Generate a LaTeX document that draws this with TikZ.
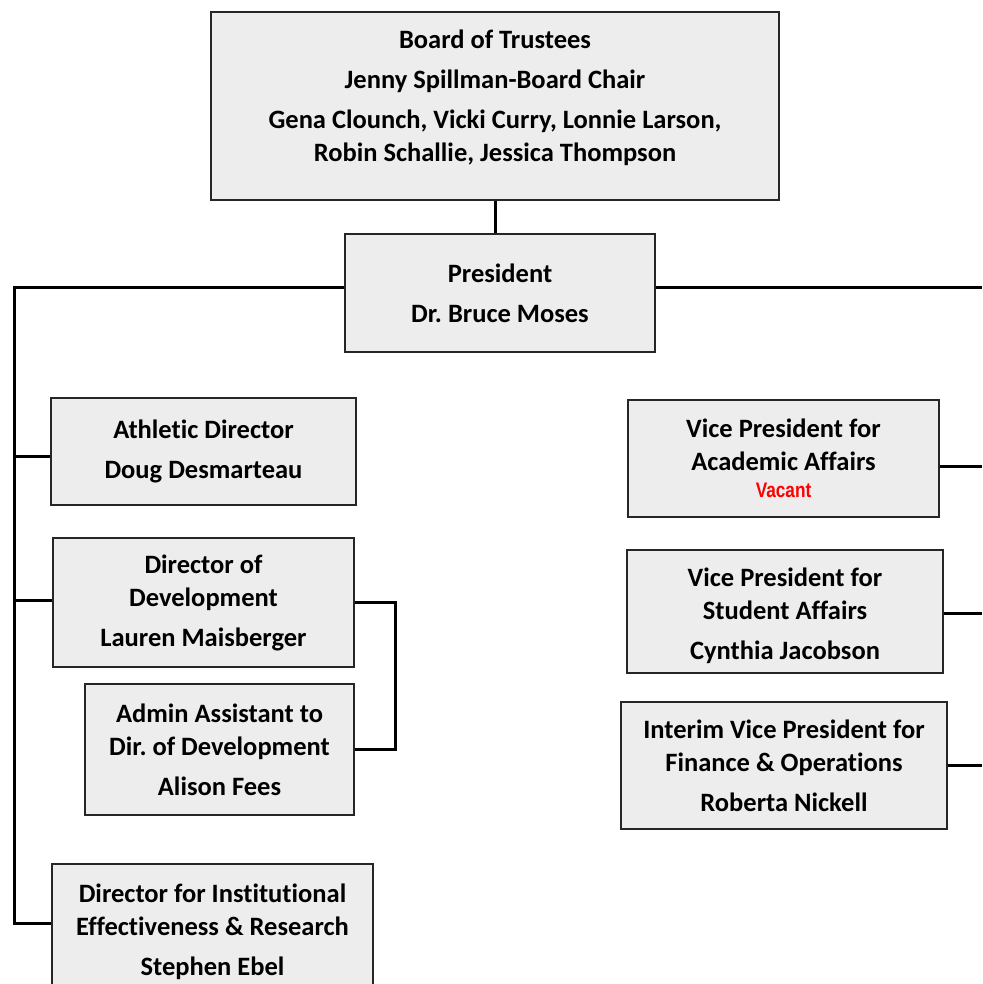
\documentclass[tikz,border=0pt]{standalone}
\usepackage{fontspec}
\setmainfont{Carlito}[Ligatures=NoCommon]
\newfontfamily\narrowfont{Liberation Sans}
\definecolor{boxgray}{HTML}{EDEDED}
\definecolor{vacantred}{HTML}{FF0000}

\begin{document}
\frenchspacing
\begin{tikzpicture}[x=1pt,y=-1pt,
		box/.style={draw=black!85,line width=2pt,fill=boxgray,align=center,inner sep=0pt,
			font=\bfseries\fontsize{26.5}{33}\selectfont},
		wire/.style={line width=3pt}]
		\clip (0,0) rectangle (982,984);
		\useasboundingbox (0,0) rectangle (982,984);

		% board and president
		\draw (495,106) node[box,minimum width=568,minimum height=188] (board)
			{Board of Trustees\\[7pt] Jenny Spillman-Board Chair\\[7pt]
			 Gena Clounch, Vicki Curry, Lonnie Larson,\\ Robin Schallie, Jessica Thompson\\[-13pt]\mbox{}};
		\draw (500,293) node[box,minimum width=310,minimum height=118] (president)
			{President\\[7pt] Dr. Bruce Moses};

		% left side
		\draw (203.5,451.5) node[box,minimum width=305,minimum height=107] (athletic)
			{Athletic Director\\[7pt] Doug Desmarteau};
		\draw (203.5,602.5) node[box,minimum width=301,minimum height=129] (devdir)
			{Director of\\ Development\\[7pt] Lauren Maisberger};
		\draw (219.5,749.5) node[box,minimum width=269,minimum height=131] (admin)
			{Admin Assistant to\\ Dir. of Development\\[7pt] Alison Fees};
		\draw (212.5,932) node[box,minimum width=321,minimum height=136] (ier)
			{Director for Institutional\\ Effectiveness \& Research\\[7pt] Stephen Ebel};

		% right side
		\draw (783.5,458.5) node[box,minimum width=311,minimum height=117] (vpaa)
			{Vice President for\\ Academic Affairs\\[-6pt]
			 {\narrowfont\fontsize{21}{21}\selectfont\color{vacantred}\scalebox{0.82}[1]{Vacant}}};
		\draw (785,611.5) node[box,minimum width=316,minimum height=123] (vpsa)
			{\mbox{}\\[-5pt] Vice President for\\ Student Affairs\\[7pt] Cynthia Jacobson};
		\draw (784,765.5) node[box,minimum width=326,minimum height=127] (vpfo)
			{Interim Vice President for\\ Finance \& Operations\\[7pt] Roberta Nickell};

		% bus ends
		\coordinate (ltop) at (14,287);
		\coordinate (lad) at (14,456);
		\coordinate (ldd) at (14,600);
		\coordinate (lbot) at (14,923);
		\coordinate (rtop) at (982,287);
		\coordinate (raa) at (982,466);
		\coordinate (rsa) at (982,613);
		\coordinate (rfo) at (982,765);

		\draw[wire] (board.south) -- (board.south |- president.north);
		\draw[wire] (ltop -| president.west) -- (ltop) -- (lbot) -- (lbot -| ier.west);
		\draw[wire] (lad) -- (lad -| athletic.west);
		\draw[wire] (ldd) -- (ldd -| devdir.west);
		\draw[wire] (devdir.east) -- ++(40,0) |- (admin.east);
		\draw[wire] (rtop -| president.east) -- (rtop);
		\draw[wire] (raa -| vpaa.east) -- (raa);
		\draw[wire] (rsa -| vpsa.east) -- (rsa);
		\draw[wire] (rfo -| vpfo.east) -- (rfo);
	\end{tikzpicture}
\end{document}
